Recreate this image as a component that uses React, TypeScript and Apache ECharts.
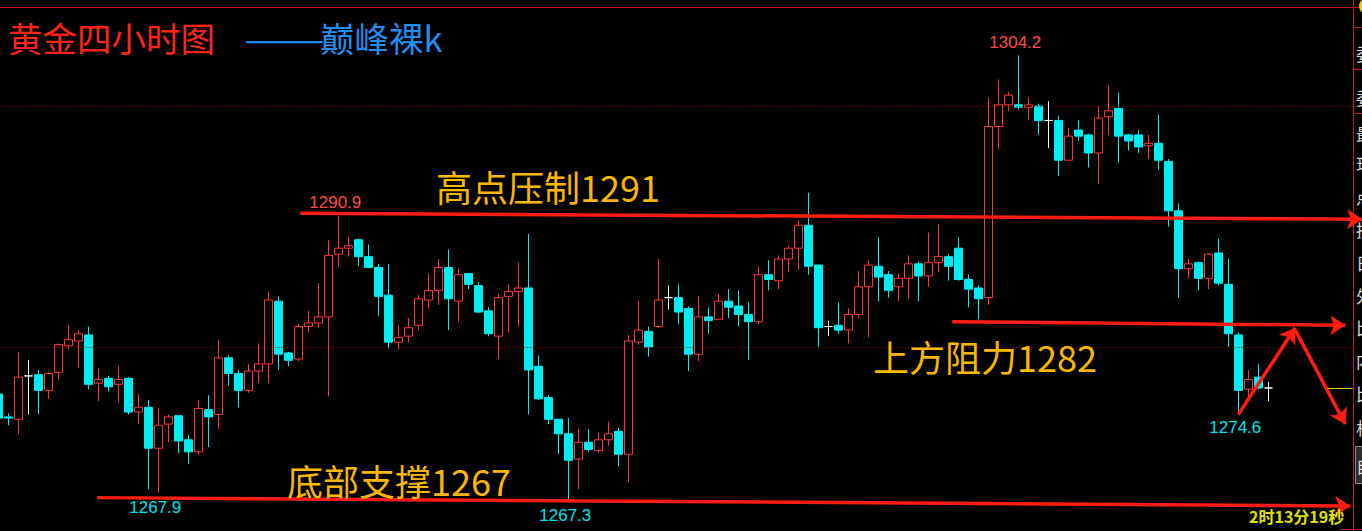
import React, { useEffect, useRef } from 'react';
import * as echarts from 'echarts';

// 4-hour gold candles: [open, close, low, high]
const candles: [number, number, number, number][] = [
  [1276.1, 1274.1, 1273.5, 1276.4],
  [1274.2, 1274.1, 1273.5, 1274.5],
  [1274.0, 1277.5, 1272.8, 1279.6],
  [1277.6, 1277.6, 1274.4, 1278.9],
  [1277.7, 1276.4, 1274.4, 1278.1],
  [1276.4, 1277.8, 1275.7, 1277.9],
  [1277.9, 1280.2, 1277.3, 1280.3],
  [1280.1, 1280.6, 1279.8, 1281.8],
  [1280.5, 1281.1, 1278.3, 1281.4],
  [1281.0, 1276.9, 1276.5, 1281.7],
  [1277.0, 1277.3, 1275.5, 1278.2],
  [1277.4, 1276.7, 1276.3, 1277.6],
  [1276.9, 1277.3, 1275.4, 1278.4],
  [1277.4, 1274.6, 1274.4, 1277.5],
  [1274.6, 1275.0, 1273.6, 1276.1],
  [1275.0, 1271.6, 1268.2, 1275.6],
  [1271.6, 1273.5, 1267.9, 1274.9],
  [1273.6, 1274.2, 1272.1, 1274.4],
  [1274.3, 1272.2, 1271.2, 1274.3],
  [1272.3, 1271.3, 1270.3, 1272.7],
  [1271.3, 1274.9, 1271.1, 1275.6],
  [1274.8, 1274.2, 1271.7, 1276.0],
  [1274.4, 1279.1, 1273.2, 1280.6],
  [1279.1, 1277.8, 1276.8, 1279.3],
  [1277.8, 1276.4, 1275.0, 1278.1],
  [1276.4, 1278.0, 1276.2, 1278.6],
  [1278.0, 1278.6, 1277.0, 1280.3],
  [1278.6, 1283.9, 1277.0, 1284.6],
  [1283.8, 1279.4, 1278.1, 1284.2],
  [1279.5, 1278.9, 1278.4, 1279.6],
  [1279.0, 1281.7, 1278.8, 1281.9],
  [1281.7, 1282.0, 1281.2, 1283.0],
  [1282.0, 1282.5, 1281.6, 1285.3],
  [1282.5, 1287.6, 1275.9, 1288.9],
  [1287.7, 1288.2, 1286.7, 1290.9],
  [1288.2, 1288.4, 1287.5, 1289.1],
  [1288.9, 1287.5, 1286.7, 1289.0],
  [1287.5, 1286.6, 1286.6, 1288.5],
  [1286.6, 1284.2, 1282.6, 1286.9],
  [1284.3, 1280.4, 1279.9, 1286.9],
  [1280.4, 1280.8, 1279.8, 1281.8],
  [1280.9, 1281.6, 1280.4, 1282.4],
  [1281.8, 1284.0, 1281.4, 1284.3],
  [1283.9, 1284.7, 1283.2, 1286.1],
  [1284.7, 1286.6, 1283.5, 1287.3],
  [1286.6, 1284.0, 1281.4, 1288.1],
  [1283.8, 1286.0, 1282.1, 1286.5],
  [1286.1, 1285.2, 1284.8, 1286.1],
  [1285.1, 1282.9, 1282.8, 1285.4],
  [1283.0, 1281.1, 1280.9, 1283.3],
  [1280.9, 1284.1, 1279.0, 1284.4],
  [1284.2, 1284.6, 1281.2, 1285.2],
  [1284.6, 1284.9, 1281.7, 1287.0],
  [1284.9, 1278.1, 1274.4, 1289.4],
  [1278.4, 1275.7, 1275.6, 1279.3],
  [1275.8, 1274.0, 1273.6, 1276.0],
  [1274.0, 1272.8, 1271.1, 1274.0],
  [1272.8, 1270.6, 1267.3, 1274.1],
  [1270.7, 1272.1, 1268.2, 1273.2],
  [1272.1, 1271.5, 1271.3, 1273.2],
  [1271.4, 1272.3, 1271.2, 1272.9],
  [1272.3, 1272.8, 1271.8, 1273.8],
  [1273.0, 1271.1, 1270.1, 1273.3],
  [1271.1, 1280.5, 1268.8, 1281.0],
  [1280.4, 1281.4, 1280.2, 1283.8],
  [1281.3, 1280.0, 1279.2, 1281.7],
  [1281.7, 1283.9, 1281.6, 1287.3],
  [1284.1, 1284.1, 1283.1, 1285.1],
  [1284.1, 1282.9, 1281.9, 1285.2],
  [1283.2, 1279.4, 1278.0, 1283.4],
  [1279.4, 1282.5, 1278.8, 1284.2],
  [1282.5, 1282.2, 1281.1, 1283.3],
  [1282.3, 1283.8, 1282.3, 1284.4],
  [1283.8, 1283.3, 1282.4, 1284.8],
  [1283.4, 1282.7, 1281.7, 1284.7],
  [1282.7, 1282.1, 1278.9, 1283.7],
  [1282.1, 1286.0, 1281.9, 1286.7],
  [1286.0, 1285.6, 1284.7, 1287.2],
  [1285.5, 1287.3, 1284.8, 1287.6],
  [1287.3, 1288.2, 1286.2, 1288.4],
  [1288.2, 1290.1, 1286.4, 1290.5],
  [1290.1, 1286.7, 1286.0, 1292.8],
  [1286.8, 1281.6, 1280.0, 1286.8],
  [1281.7, 1281.7, 1280.9, 1282.2],
  [1281.8, 1281.4, 1281.1, 1283.7],
  [1281.4, 1282.7, 1280.3, 1283.2],
  [1282.7, 1285.0, 1282.4, 1286.3],
  [1285.0, 1286.8, 1280.8, 1287.2],
  [1286.7, 1285.8, 1283.8, 1289.1],
  [1286.0, 1284.7, 1284.1, 1286.3],
  [1285.0, 1285.7, 1283.8, 1286.1],
  [1285.7, 1286.9, 1284.0, 1287.6],
  [1286.9, 1285.9, 1283.8, 1287.1],
  [1285.9, 1287.0, 1285.0, 1289.5],
  [1287.0, 1287.5, 1286.2, 1290.2],
  [1287.5, 1286.7, 1285.5, 1287.7],
  [1288.2, 1285.6, 1285.5, 1289.1],
  [1285.6, 1284.8, 1283.3, 1286.0],
  [1284.9, 1284.0, 1282.3, 1285.1],
  [1284.1, 1298.3, 1283.5, 1300.7],
  [1298.3, 1300.1, 1296.4, 1302.2],
  [1300.1, 1300.9, 1299.6, 1301.2],
  [1300.1, 1299.9, 1299.7, 1304.2],
  [1299.9, 1300.1, 1298.8, 1300.7],
  [1300.0, 1298.8, 1297.6, 1300.2],
  [1298.8, 1298.8, 1296.5, 1300.4],
  [1298.8, 1295.5, 1294.2, 1299.2],
  [1295.5, 1297.5, 1295.5, 1298.2],
  [1298.0, 1297.5, 1297.1, 1298.8],
  [1297.6, 1296.1, 1294.9, 1297.7],
  [1296.1, 1299.0, 1293.5, 1300.0],
  [1299.1, 1299.6, 1297.6, 1301.7],
  [1299.8, 1297.5, 1295.3, 1301.1],
  [1297.6, 1297.1, 1296.3, 1297.7],
  [1297.6, 1296.6, 1296.1, 1298.0],
  [1296.7, 1296.9, 1295.6, 1297.6],
  [1296.9, 1295.5, 1294.7, 1299.3],
  [1295.4, 1291.3, 1290.0, 1295.6],
  [1291.3, 1286.5, 1284.1, 1291.9],
  [1286.5, 1286.9, 1285.7, 1287.3],
  [1287.0, 1285.7, 1284.7, 1287.1],
  [1285.7, 1287.7, 1284.8, 1287.8],
  [1287.8, 1285.3, 1285.1, 1289.0],
  [1285.2, 1281.1, 1280.0, 1287.3],
  [1281.0, 1276.4, 1274.6, 1281.2],
  [1276.5, 1277.3, 1275.9, 1278.1],
  [1277.5, 1276.6, 1276.5, 1278.6],
  [1276.6, 1276.6, 1275.5, 1277.1],
];

// empty slots to the right of the last bar
const EMPTY_SLOTS = 10;
const categories = Array.from({ length: candles.length + EMPTY_SLOTS }, (_, i) => `K${i + 1}`);

// labelled swing highs / lows: [bar index, price]
const swingHighs: [number, number][] = [
  [34, 1290.9],
  [102, 1304.2],
];
const swingLows: [number, number][] = [
  [16, 1267.9],
  [57, 1267.3],
  [124, 1274.6],
];

// reference levels shown as dotted rules
const gridLevels = [1300, 1280];

// hand-drawn trend / projection arrows: [[bar, price], [bar, price]]
const arrowLines: [number, number][][] = [
  [[30.2, 1291.1], [136.4, 1290.6]],
  [[9.9, 1267.5], [135.2, 1266.8]],
  [[95.4, 1282.1], [134.7, 1281.8]],
  [[124.0, 1274.4], [129.7, 1281.6]],
  [[129.7, 1281.4], [134.7, 1273.6]],
];

const Y_MIN = 1265;
const Y_MAX = 1308;
const PX_PER_POINT = 12.05;
const BAND = 10;

const CJK = '"Noto Sans CJK SC", "Noto Sans", sans-serif';
const GOLD = '#f9b800';

const panelChars: [string, number][] = [
  ['委', 53], ['委', 97], ['最', 133], ['现', 163], ['点', 196], ['振', 229],
  ['日', 262], ['外', 295], ['比', 327], ['内', 360], ['比', 393], ['相', 427],
];

export default function App() {
  const ref = useRef<HTMLDivElement>(null);

  useEffect(() => {
    if (!ref.current) return;
    const chart = echarts.init(ref.current, undefined, { renderer: 'svg' });
    const n = categories.length;
    const gridTop = 106 - (Y_MAX - 1300) * PX_PER_POINT;
    const gridHeight = (Y_MAX - Y_MIN) * PX_PER_POINT;
    const lastClose = candles[candles.length - 1][1];

    const labelStyle = (color: string, dy: number) => ({
      show: true,
      position: 'inside',
      offset: [-3, dy],
      color,
      fontSize: 17,
      fontFamily: '"Liberation Sans", Arial, sans-serif',
      formatter: (p: any) => Number(p.value).toFixed(1),
    });

    const text = (
      t: string,
      x: number,
      y: number,
      fill: string,
      size: number,
      weight = 'normal',
      z = 70,
      scaleX = 1,
    ) => ({
      type: 'text',
      x,
      y,
      z,
      scaleX,
      silent: true,
      style: {
        text: t,
        fill,
        fontSize: size,
        fontFamily: CJK,
        fontWeight: weight,
        align: 'left',
        verticalAlign: 'middle',
      },
    });

    const redLine = (x1: number, y1: number, x2: number, y2: number, color = '#c41616') => ({
      type: 'line',
      z: 55,
      silent: true,
      shape: { x1, y1, x2, y2 },
      style: { stroke: color, lineWidth: 1 },
    });

    chart.setOption({
      animation: false,
      backgroundColor: '#000000',
      grid: {
        left: -BAND * 0.67,
        top: gridTop,
        width: n * BAND,
        height: gridHeight,
        outerBoundsMode: 'none',
      },
      xAxis: [
        { type: 'category', data: categories, show: false, boundaryGap: true },
        { type: 'value', min: -0.5, max: n - 0.5, show: false },
      ],
      yAxis: { type: 'value', min: Y_MIN, max: Y_MAX, show: false, scale: true },
      series: [
        {
          type: 'candlestick',
          data: candles,
          barWidth: 8,
          itemStyle: {
            color: '#000000',
            color0: '#00eef2',
            borderColor: '#ff3535',
            borderColor0: '#00eef2',
            borderColorDoji: '#ffffff',
            borderWidth: 1,
          },
          markLine: {
            silent: true,
            symbol: 'none',
            label: { show: false },
            lineStyle: { color: '#a00000', type: [1, 2], width: 1 },
            data: gridLevels.map((v) => ({ yAxis: v })),
          },
          markPoint: {
            silent: true,
            symbol: 'circle',
            symbolSize: 1,
            itemStyle: { color: 'rgba(0,0,0,0)' },
            data: [
              ...swingHighs.map(([i, v]) => ({ coord: [i, v], value: v, label: labelStyle('#ff4a4a', -13) })),
              ...swingLows.map(([i, v]) => ({ coord: [i, v], value: v, label: labelStyle('#00e4ee', 15) })),
            ],
          },
        },
        {
          type: 'lines',
          coordinateSystem: 'cartesian2d',
          xAxisIndex: 1,
          yAxisIndex: 0,
          z: 60,
          silent: true,
          clip: false,
          symbol: ['none', 'arrow'],
          symbolSize: 15,
          lineStyle: { color: '#ff1c12', width: 3.5, opacity: 1, curveness: 0 },
          data: arrowLines.map((c) => ({ coords: c })),
        },
        {
          type: 'lines',
          coordinateSystem: 'cartesian2d',
          xAxisIndex: 1,
          yAxisIndex: 0,
          z: 60,
          silent: true,
          symbol: 'none',
          lineStyle: { color: '#e8d400', width: 1, opacity: 1, curveness: 0 },
          data: [{ coords: [[132.9, lastClose], [135.45, lastClose]] }],
        },
      ],
      graphic: [
        redLine(0, 7.5, 1362, 7.5),
        {
          type: 'rect',
          z: 50,
          silent: true,
          shape: { x: 1353.5, y: -2, width: 20, height: 540 },
          style: { fill: '#000000', stroke: '#c41616', lineWidth: 1 },
        },
        redLine(1353.5, 27.5, 1362, 27.5),
        redLine(1353.5, 69.5, 1362, 69.5),
        redLine(1353.5, 113.5, 1362, 113.5),
        redLine(1340, 529.5, 1362, 529.5),
        {
          type: 'rect',
          z: 56,
          silent: true,
          shape: { x: 1355.5, y: 446.5, width: 12, height: 37 },
          style: { fill: '#2e2e2e', stroke: '#8a8a8a', lineWidth: 1 },
        },
        {
          type: 'circle',
          z: 56,
          silent: true,
          shape: { cx: 1367, cy: 6, r: 8 },
          style: { fill: '#e8d000' },
        },
        ...panelChars.map(([c, y]) => text(c, 1356, y, '#d6d6d6', 17, 'normal', 57)),
        text('自', 1356, 465, '#d6d6d6', 17, 'normal', 57),
        text('黄金四小时图', 8, 37, '#ff2418', 34.5),
        text('——', 244, 37, '#1e8ff0', 34.5, 'normal', 70, 1.4),
        text('巅峰裸k', 320, 37, '#1e8ff0', 34.5),
        text('高点压制1291', 436, 186, GOLD, 36),
        text('上方阻力1282', 873, 356, GOLD, 36),
        text('底部支撑1267', 287, 480, GOLD, 36),
        text('2时13分19秒', 1249, 516, '#e2e200', 16, 'bold', 65),
      ],
    });

    return () => chart.dispose();
  }, []);

  return (
    <div
      ref={ref}
      style={{ position: 'fixed', left: 0, top: 0, width: 1362, height: 531, background: '#000' }}
    />
  );
}
